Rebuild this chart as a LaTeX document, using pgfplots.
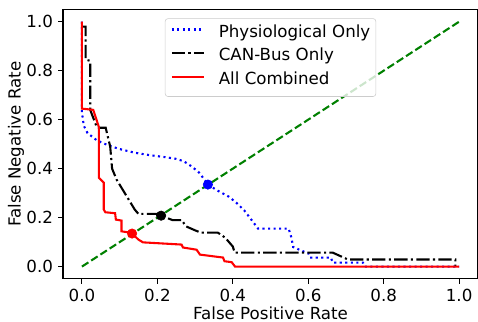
\documentclass[border=0pt]{standalone}
\usepackage{fontspec}
\setmainfont{DejaVu Sans}
\usepackage{pgfplots}
\pgfplotsset{compat=1.18}
\definecolor{mplgreen}{HTML}{008000}
\begin{document}
\begin{tikzpicture}
\begin{axis}[
  name=ax,
  scale only axis,
  width=298.8pt, height=194pt,
  xmin=-0.05, xmax=1.05, ymin=-0.05, ymax=1.05,
  xtick={0,0.2,0.4,0.6,0.8,1.0},
  ytick={0,0.2,0.4,0.6,0.8,1.0},
  xticklabels={0.0,0.2,0.4,0.6,0.8,1.0},
  yticklabels={0.0,0.2,0.4,0.6,0.8,1.0},
  tick align=outside,
  xtick pos=left, ytick pos=left,
  major tick length=3.5pt,
  tick style={black, line width=0.8pt},
  axis line style={line width=0.8pt},
  xticklabel style={font=\fontsize{12}{14}\selectfont, anchor=north, inner sep=0pt, yshift=-3.7pt},
  yticklabel style={font=\fontsize{12}{14}\selectfont, anchor=east, inner sep=0pt, xshift=-3.6pt},
  every axis x label/.style={at={([yshift=-29.6pt]axis description cs:0.5,0)}, anchor=base, font=\fontsize{12}{14}\selectfont},
  every axis y label/.style={at={([xshift=-30.6pt]axis description cs:0,0.5)}, rotate=90, anchor=base, font=\fontsize{12}{14}\selectfont},
  xlabel={False Positive Rate},
  ylabel={False Negative Rate},
  legend cell align=left,
  legend style={at={(0.5,0.967)}, anchor=north, draw=black!20, rounded corners=2pt,
    fill=white, fill opacity=0.8, text opacity=1,
    font=\fontsize{12}{14}\selectfont, inner xsep=4pt, inner ysep=4pt, row sep=3.5pt, column sep=9.6pt,
    nodes={inner sep=0pt, text height=9.3pt, text depth=4.4pt}},
  legend image code/.code={\draw[#1] (0pt,3pt) -- (23.5pt,3pt);},
]
\addplot[blue, line width=1.5pt, dash pattern=on 1.5pt off 2.475pt] coordinates {
(0,1.0) (0,0.63) (0.005,0.575) (0.015,0.545) (0.04,0.515) (0.07,0.495) (0.1,0.48)
(0.14,0.465) (0.18,0.455) (0.22,0.447) (0.25,0.44) (0.27,0.43) (0.29,0.41) (0.31,0.385)
(0.325,0.355) (0.334,0.335) (0.36,0.31) (0.39,0.285) (0.41,0.26) (0.43,0.23) (0.45,0.19)
(0.467,0.155) (0.548,0.155) (0.555,0.12) (0.56,0.08) (0.59,0.06) (0.60,0.055) (0.605,0.037)
(0.66,0.037) (0.665,0.016) (0.745,0.016) (0.75,0.0) (1.0,0.0)
};
\addlegendentry{Physiological Only}
\addplot[black, line width=1.5pt, dash pattern=on 9.6pt off 2.4pt on 1.5pt off 2.4pt] coordinates {
(0,0.98) (0.01,0.98) (0.01,0.845) (0.022,0.84) (0.022,0.64) (0.04,0.567) (0.063,0.567)
(0.075,0.49) (0.08,0.40) (0.092,0.355) (0.14,0.233) (0.15,0.215) (0.2,0.215) (0.21,0.208)
(0.24,0.19) (0.265,0.19) (0.275,0.165) (0.3,0.148) (0.315,0.139) (0.36,0.139) (0.38,0.118)
(0.40,0.082) (0.405,0.057) (0.665,0.057) (0.705,0.029) (0.99,0.029) (0.99,0.0)
};
\addlegendentry{CAN-Bus Only}
\addplot[red, line width=1.5pt] coordinates {
(0,1.0) (0,0.645) (0.03,0.64) (0.045,0.57) (0.045,0.363) (0.058,0.343) (0.058,0.233)
(0.062,0.222) (0.088,0.218) (0.09,0.192) (0.105,0.188) (0.105,0.144) (0.127,0.139)
(0.133,0.135) (0.15,0.11) (0.162,0.099) (0.264,0.09) (0.268,0.078) (0.304,0.069)
(0.313,0.049) (0.374,0.037) (0.378,0.022) (0.397,0.018) (0.406,0.0) (1.0,0.0)
};
\addlegendentry{All Combined}
\addplot[mplgreen, line width=1.5pt, dash pattern=on 5.55pt off 2.4pt, forget plot] coordinates {(0,0) (1,1)};
\addplot[only marks, mark=*, mark size=3.4pt, blue, forget plot] coordinates {(0.334,0.335)};
\addplot[only marks, mark=*, mark size=3.4pt, black, forget plot] coordinates {(0.21,0.208)};
\addplot[only marks, mark=*, mark size=3.4pt, red, forget plot] coordinates {(0.133,0.135)};
\end{axis}
\pgfresetboundingbox
\path ([shift={(-45.4pt,-31pt)}]ax.south west) rectangle ([shift={(0pt,6.8pt)}]ax.north east);
\end{tikzpicture}
\end{document}
